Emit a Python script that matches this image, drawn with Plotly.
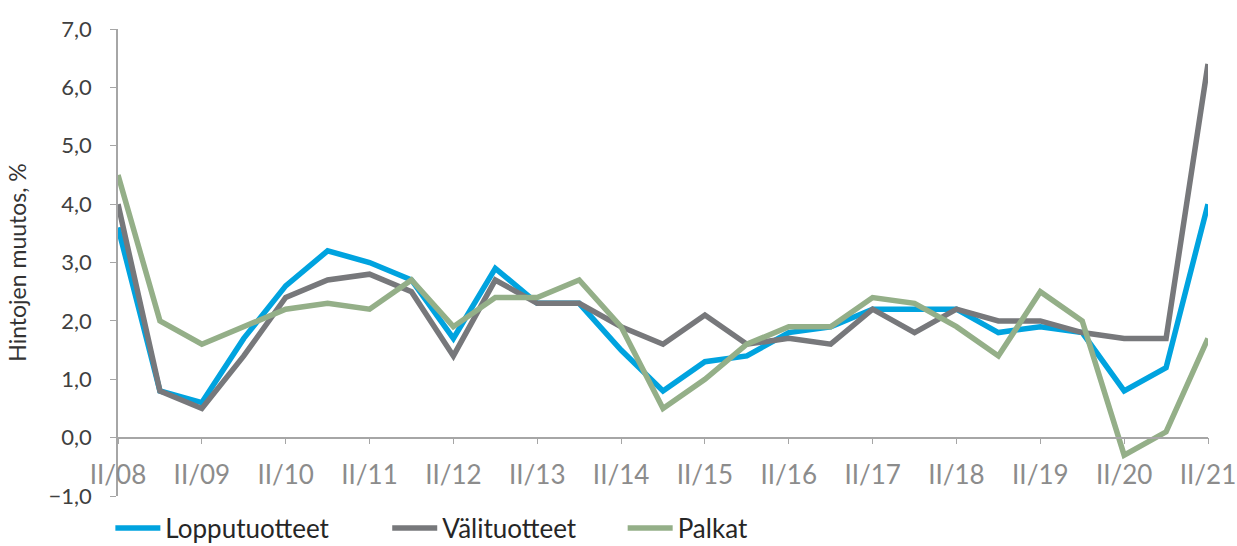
import plotly.graph_objects as go

# Half-year periods II/08 ... II/21
periods = ["II/08", "I/09", "II/09", "I/10", "II/10", "I/11", "II/11", "I/12", "II/12",
           "I/13", "II/13", "I/14", "II/14", "I/15", "II/15", "I/16", "II/16", "I/17",
           "II/17", "I/18", "II/18", "I/19", "II/19", "I/20", "II/20", "I/21", "II/21"]

lopputuotteet = [3.6, 0.8, 0.6, 1.7, 2.6, 3.2, 3.0, 2.7, 1.7, 2.9, 2.3, 2.3, 1.5, 0.8,
                 1.3, 1.4, 1.8, 1.9, 2.2, 2.2, 2.2, 1.8, 1.9, 1.8, 0.8, 1.2, 4.0]
valituotteet = [4.0, 0.8, 0.5, 1.4, 2.4, 2.7, 2.8, 2.5, 1.4, 2.7, 2.3, 2.3, 1.9, 1.6,
                2.1, 1.6, 1.7, 1.6, 2.2, 1.8, 2.2, 2.0, 2.0, 1.8, 1.7, 1.7, 6.4]
palkat = [4.5, 2.0, 1.6, 1.9, 2.2, 2.3, 2.2, 2.7, 1.9, 2.4, 2.4, 2.7, 1.9, 0.5,
          1.0, 1.6, 1.9, 1.9, 2.4, 2.3, 1.9, 1.4, 2.5, 2.0, -0.3, 0.1, 1.7]

tick_labels = [p for p in periods if p.startswith("II/")]

series = [
    ("Lopputuotteet", lopputuotteet, "#00A3DF", "legend"),
    ("Välituotteet", valituotteet, "#77787B", "legend2"),
    ("Palkat", palkat, "#94AF88", "legend3"),
]

fig = go.Figure()
for name, vals, color, leg in series:
    fig.add_trace(go.Scatter(
        x=periods, y=vals, name=name, mode="lines",
        line=dict(color=color, width=5.5),
        legend=leg,
    ))

axis_col = "#A6A6A6"
FONT = "Lato, Roboto, sans-serif"

legend_common = dict(
    orientation="h", yanchor="middle", y=-0.069, xanchor="left",
    font=dict(family=FONT, size=26, color="#262626"),
    bgcolor="rgba(0,0,0,0)", borderwidth=0, itemwidth=45,
)

fig.update_layout(
    width=1237, height=546,
    margin=dict(l=118, r=29, t=29, b=50, autoexpand=False),
    plot_bgcolor="white", paper_bgcolor="white",
    separators=", ",
    font=dict(family=FONT),
    showlegend=True,
    legend=dict(x=-0.007, **legend_common),
    legend2=dict(x=0.247, **legend_common),
    legend3=dict(x=0.463, **legend_common),
    xaxis=dict(
        type="category",
        range=[0, len(periods) - 1],
        anchor="free", position=0.125,
        showline=True, linecolor=axis_col, linewidth=1.5,
        ticks="outside", ticklen=6, tickcolor=axis_col, tickwidth=1,
        tickmode="array", tickvals=tick_labels, ticktext=tick_labels,
        tickfont=dict(family=FONT, size=26, color="#8C8C8C"),
        ticklabelstandoff=8,
        showgrid=False, zeroline=False,
    ),
    yaxis=dict(
        range=[-1, 7], dtick=1, tick0=0,
        tickformat=".1f",
        showline=True, linecolor=axis_col, linewidth=1.5,
        ticks="outside", ticklen=6, tickcolor=axis_col, tickwidth=1,
        tickfont=dict(family=FONT, size=22, color="#404040"),
        ticklabelstandoff=14,
        showgrid=False, zeroline=False,
        title=dict(text="Hintojen muutos, %",
                   font=dict(family=FONT, size=23, color="#333333"),
                   standoff=16),
    ),
)

fig.write_html(
    "out.html",
    config={"displayModeBar": False},
    post_script="document.body.style.margin='0px';document.body.style.overflow='hidden';",
)
